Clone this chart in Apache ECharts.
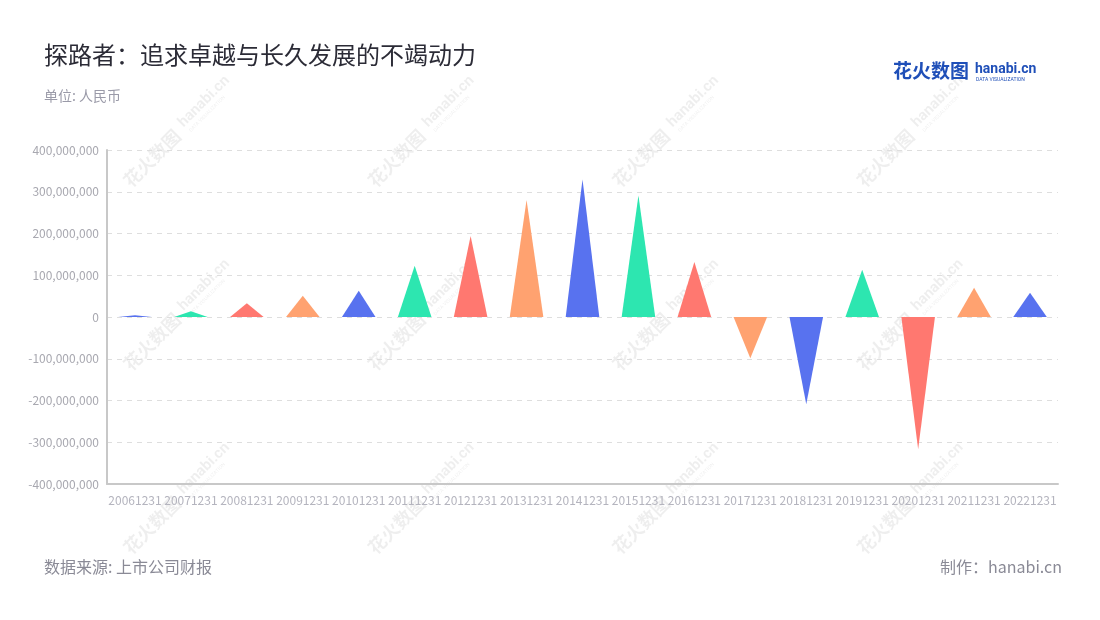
<!DOCTYPE html>
<html><head><meta charset="utf-8">
<script src="https://cdn.jsdelivr.net/npm/echarts@6/dist/echarts.min.js"></script>
<style>html,body{margin:0;padding:0;background:#fff}#c{width:1100px;height:620px}</style>
</head><body><div id="c"></div>
<script>
var categories = ['20061231','20071231','20081231','20091231','20101231','20111231','20121231','20131231','20141231','20151231','20161231','20171231','20181231','20191231','20201231','20211231','20221231'];
var values = [4000000, 14000000, 33000000, 51000000, 63000000, 123000000, 194000000, 280000000, 330000000, 291000000, 132000000, -99000000, -209000000, 113000000, -317000000, 70000000, 58000000];
var palette = ['#5872EF', '#2DE6B0', '#FF7870', '#FFA270'];
var yTicks = [-400000000, 400000000, 100000000];

var chart = echarts.init(document.getElementById('c'));
var font = '"Noto Sans CJK SC","Noto Sans",sans-serif';

// faint repeating watermark
var wm = 'rgba(0,0,0,0.065)';
var marks = [];
for (var i = 0; i < 4; i++) {
  for (var j = 0; j < 3; j++) {
    marks.push({
      type: 'group', x: 183 + 244.5 * i, y: 127 + 183.5 * j, rotation: Math.PI / 4,
      silent: true, z: -10,
      children: [
        {type: 'text', x: -80, y: 0, style: {text: '花火数图', fontSize: 18, fontWeight: 'bold', fill: wm, verticalAlign: 'middle', fontFamily: font}},
        {type: 'text', x: 0, y: -3, style: {text: 'hanabi.cn', fontSize: 15, fontWeight: 'bold', fill: wm, verticalAlign: 'middle', fontFamily: 'Roboto, sans-serif'}},
        {type: 'text', x: 2, y: 8, style: {text: 'DATA VISUALIZATION', fontSize: 5, fill: wm, verticalAlign: 'middle', fontFamily: 'Roboto, sans-serif'}}
      ]
    });
  }
}

chart.setOption({
  backgroundColor: '#fff',
  textStyle: {fontFamily: font},
  title: [
    {text: '探路者：追求卓越与长久发展的不竭动力', left: 39, top: 38, textStyle: {fontSize: 24, fontWeight: 'normal', color: '#2b2b36', fontFamily: font}},
    {text: '单位: 人民币', left: 39, top: 84, textStyle: {fontSize: 14, fontWeight: 'normal', color: '#9a9aa8', fontFamily: font}},
    {text: '数据来源: 上市公司财报', left: 39, top: 554, textStyle: {fontSize: 16, fontWeight: 'normal', color: '#8a8a96', fontFamily: font}},
    {text: '制作：hanabi.cn', right: 33, top: 554, textStyle: {fontSize: 16, fontWeight: 'normal', color: '#8a8a96', fontFamily: font}}
  ],
  graphic: marks.concat([
    {type: 'text', left: 893, top: 61, style: {text: '花火数图', fontSize: 19, fontWeight: 'bold', fill: '#1f4fb8', fontFamily: font}},
    {type: 'text', left: 975, top: 62, style: {text: 'hanabi.cn', fontSize: 14, fontWeight: 'bold', fill: '#1f4fb8', fontFamily: 'Roboto, sans-serif'}},
    {type: 'text', left: 976, top: 77, style: {text: 'DATA VISUALIZATION', fontSize: 5, fill: '#1f4fb8', fontFamily: 'Roboto, sans-serif'}}
  ]),
  grid: {left: 107, right: 42, top: 150, bottom: 136},
  xAxis: {
    type: 'category', data: categories,
    axisLine: {onZero: false, lineStyle: {color: '#c8c8c8', width: 2}},
    axisTick: {alignWithLabel: true, lineStyle: {color: '#c8c8c8'}},
    axisLabel: {color: '#b4b4be', fontSize: 12, interval: 0, margin: 10, fontFamily: font}
  },
  yAxis: {
    type: 'value', min: yTicks[0], max: yTicks[1], interval: yTicks[2],
    axisLine: {show: true, lineStyle: {color: '#c8c8c8', width: 2}},
    axisTick: {show: false},
    axisLabel: {color: '#a8a8b0', fontSize: 12, margin: 8, fontFamily: font,
      formatter: function (v) { return v.toLocaleString('en-US'); }},
    splitLine: {lineStyle: {color: '#dedede', type: [5, 5]}}
  },
  series: [{
    type: 'pictorialBar',
    barCategoryGap: '40%',
    symbol: 'path://M0,10 L10,10 L5,0 z',
    z: 5,
    data: values.map(function (v, i) { return {value: v, itemStyle: {color: palette[i % 4]}}; })
  }]
});
</script></body></html>
